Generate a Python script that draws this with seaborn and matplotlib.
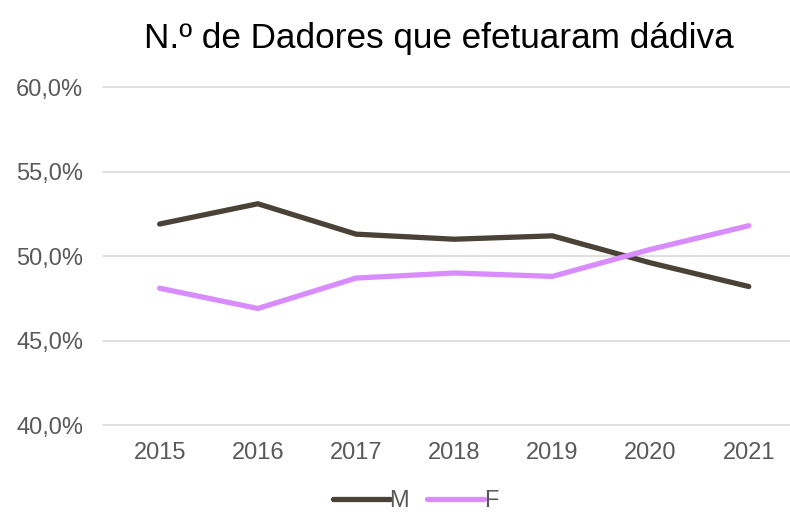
import matplotlib
matplotlib.use("Agg")
import matplotlib.pyplot as plt
import seaborn as sns
import pandas as pd
from matplotlib.ticker import FuncFormatter

years = ["2015", "2016", "2017", "2018", "2019", "2020", "2021"]
male = [51.9, 53.1, 51.3, 51.0, 51.2, 49.6, 48.2]
female = [48.1, 46.9, 48.7, 49.0, 48.8, 50.4, 51.8]
y_ticks = [40, 45, 50, 55, 60]

df = pd.DataFrame({
    "Ano": years * 2,
    "Valor": male + female,
    "Sexo": ["M"] * len(years) + ["F"] * len(years),
})

sns.set_style("white")
plt.rcParams["font.family"] = ["Liberation Sans", "DejaVu Sans"]

fig = plt.figure(figsize=(7.9, 5.13), dpi=100)
ax = fig.add_axes([0.130, 0.1715, 0.87, 0.6585])

sns.lineplot(data=df, x="Ano", y="Valor", hue="Sexo",
             palette={"M": "#4a4236", "F": "#d98cff"},
             linewidth=3.8, ax=ax, sort=False)

ax.set_ylim(40, 60)
ax.set_xlim(-0.58, 6.42)
ax.set_yticks(y_ticks)
ax.yaxis.set_major_formatter(FuncFormatter(lambda v, p: f"{v:.1f}%".replace(".", ",")))
ax.grid(axis="y", color="#d9d9d9", linewidth=1.2)
for gl in ax.get_ygridlines():
    gl.set_clip_on(False)
ax.set_axisbelow(True)
for s in ax.spines.values():
    s.set_visible(False)
ax.tick_params(axis="both", length=0, labelsize=17, labelcolor="#595959")
ax.tick_params(axis="x", pad=12)
ax.tick_params(axis="y", pad=14)
ax.set_xlabel("")
ax.set_ylabel("")

fig.suptitle("N.º de Dadores que efetuaram dádiva", x=0.556, y=0.958,
             fontsize=25.3, color="#000000", va="top")

ax.legend(loc="center", bbox_to_anchor=(0.455, -0.225), ncol=2,
          frameon=False, fontsize=17, handlelength=2.4, columnspacing=0.75,
          handletextpad=0.0, labelcolor="#595959")

fig.savefig("out.png", dpi=100)
